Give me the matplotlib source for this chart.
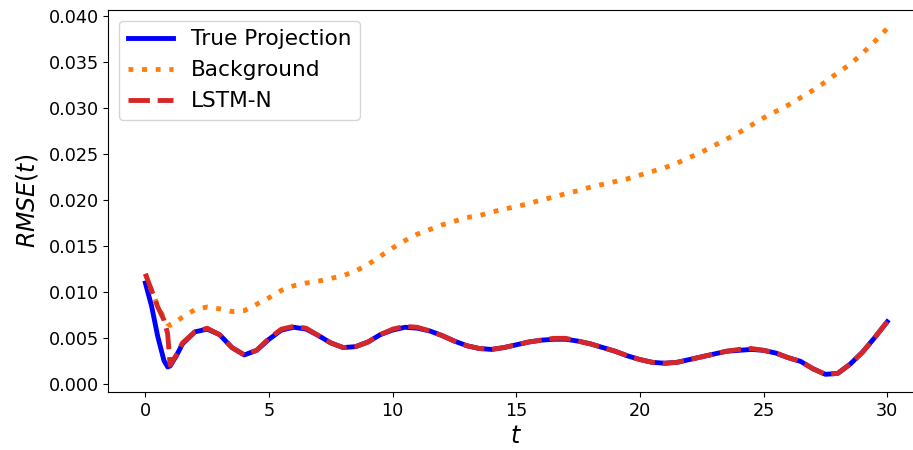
import matplotlib
matplotlib.use("Agg")
import matplotlib.pyplot as plt

t = [0, 0.25, 0.5, 0.75, 0.9, 1.0, 1.25, 1.5, 2.0, 2.5, 3.0, 3.5, 4.0, 4.5, 5.0, 5.5,
     6.0, 6.5, 7.0, 7.5, 8.0, 8.5, 9.0, 9.5, 10.0, 10.5, 11.0, 11.5, 12.0, 12.5,
     13.0, 13.5, 14.0, 14.5, 15.0, 15.5, 16.0, 16.5, 17.0, 17.5, 18.0, 18.5, 19.0,
     19.5, 20.0, 20.5, 21.0, 21.5, 22.0, 22.5, 23.0, 23.5, 24.0, 24.5, 25.0, 25.5,
     26.0, 26.5, 27.0, 27.5, 28.0, 28.5, 29.0, 29.5, 30.0]

true_projection = [0.0110, 0.0085, 0.0052, 0.0026, 0.0019, 0.0020, 0.0031, 0.0044,
                   0.0057, 0.0060, 0.0054, 0.0040, 0.0032, 0.0037, 0.0049, 0.0059,
                   0.0062, 0.0060, 0.0053, 0.0045, 0.0040, 0.0041, 0.0046, 0.0054,
                   0.0059, 0.0062, 0.0061, 0.0058, 0.0053, 0.0047, 0.0042, 0.0039,
                   0.0038, 0.0040, 0.0043, 0.0046, 0.0048, 0.0049, 0.0049, 0.0047,
                   0.0044, 0.0040, 0.0036, 0.0031, 0.0027, 0.0024, 0.0023, 0.0024,
                   0.0027, 0.0030, 0.0033, 0.0036, 0.0037, 0.0038, 0.0037, 0.0034,
                   0.0029, 0.0025, 0.0017, 0.0011, 0.0012, 0.0022, 0.0035, 0.0051,
                   0.0068]

background = [0.0120, 0.0102, 0.0085, 0.0072, 0.0066, 0.0064, 0.0068, 0.0073,
              0.0081, 0.0084, 0.0082, 0.0079, 0.0080, 0.0087, 0.0094, 0.0102,
              0.0107, 0.0110, 0.0112, 0.0115, 0.0118, 0.0123, 0.0130, 0.0139,
              0.0148, 0.0156, 0.0163, 0.0168, 0.0173, 0.0177, 0.0181, 0.0183,
              0.0187, 0.0190, 0.0193, 0.0196, 0.0200, 0.0203, 0.0207, 0.0210,
              0.0214, 0.0217, 0.0220, 0.0223, 0.0227, 0.0231, 0.0235, 0.0240,
              0.0246, 0.0252, 0.0259, 0.0266, 0.0273, 0.0281, 0.0289, 0.0296,
              0.0303, 0.0311, 0.0319, 0.0328, 0.0338, 0.0347, 0.0359, 0.0372,
              0.0386]

lstm_n = [0.0120, 0.0102, 0.0084, 0.0070, 0.0055, 0.0021, 0.0032, 0.0045,
          0.0057, 0.0061, 0.0054, 0.0040, 0.0032, 0.0037, 0.0050, 0.0060,
          0.0063, 0.0061, 0.0053, 0.0045, 0.0040, 0.0041, 0.0046, 0.0054,
          0.0060, 0.0063, 0.0062, 0.0058, 0.0053, 0.0047, 0.0042, 0.0039,
          0.0038, 0.0040, 0.0043, 0.0046, 0.0048, 0.0050, 0.0050, 0.0047,
          0.0044, 0.0040, 0.0036, 0.0031, 0.0027, 0.0024, 0.0023, 0.0024,
          0.0027, 0.0030, 0.0033, 0.0036, 0.0038, 0.0039, 0.0037, 0.0034,
          0.0029, 0.0025, 0.0017, 0.0011, 0.0012, 0.0022, 0.0035, 0.0051,
          0.0068]

fig = plt.figure(figsize=(9.13, 4.5), dpi=100)
ax = fig.add_axes([108.3 / 913, 57.7 / 450, 816 / 913, 382.3 / 450])

ax.plot(t, true_projection, color="blue", lw=3.5, label="True Projection")
ax.plot(t, background, color="#ff7f0e", lw=3.5, linestyle=(0, (1, 1.8)),
        label="Background")
ax.plot(t, lstm_n, color="#d62728", lw=3.5, linestyle=(0, (4.4, 1.6)),
        label="LSTM-N")

ax.set_xlim(-1.5, 31.5)
ax.set_xticks([0, 5, 10, 15, 20, 25, 30])
ax.set_yticks([0.0, 0.005, 0.010, 0.015, 0.020, 0.025, 0.030, 0.035, 0.040])
ax.set_yticklabels(["0.000", "0.005", "0.010", "0.015", "0.020", "0.025",
                    "0.030", "0.035", "0.040"])
ax.set_ylim(-0.00085, 0.0406)
ax.tick_params(labelsize=12.7)
ax.set_xlabel("$t$", fontsize=17, labelpad=3)
ax.set_ylabel("$RMSE(t)$", fontsize=17, labelpad=6)
ax.legend(loc="upper left", fontsize=15.6, handlelength=2.1)

fig.savefig("out.png", dpi=100)
